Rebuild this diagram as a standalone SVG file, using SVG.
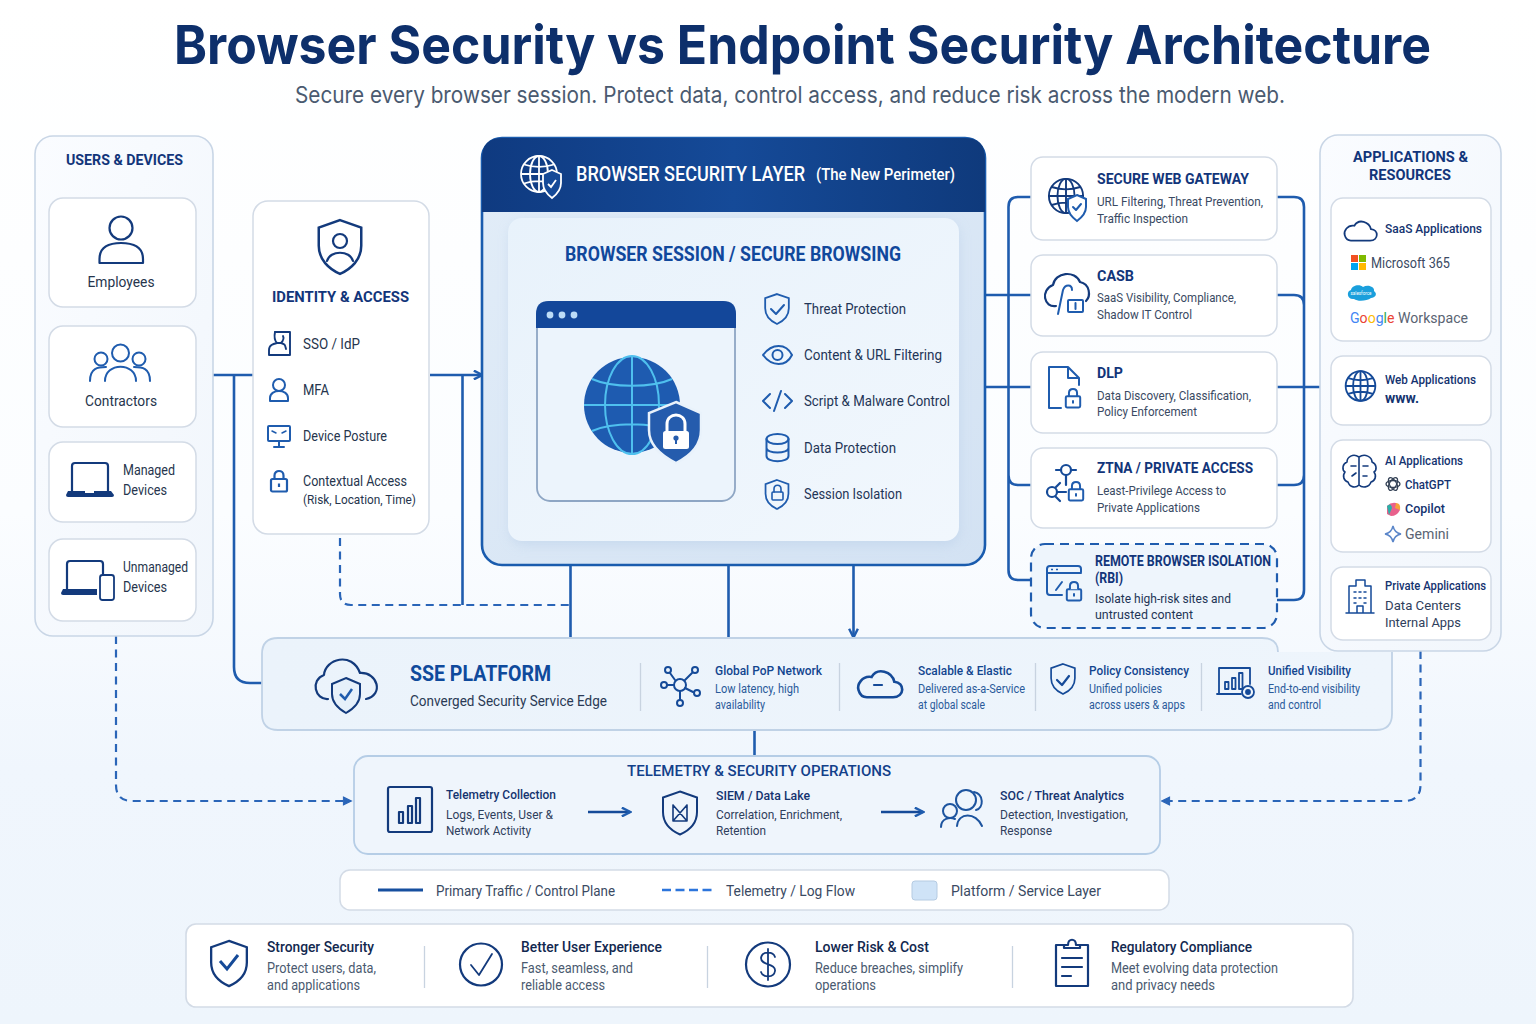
<svg xmlns="http://www.w3.org/2000/svg" width="1536" height="1024" viewBox="0 0 1536 1024">
<style>
text{font-family:"Roboto","Liberation Sans",sans-serif;fill:#26354d}
.title{font-family:"Inter","Liberation Sans",sans-serif;font-weight:700;font-size:54px;fill:#0d2f6b;text-anchor:middle}
.sub{font-family:"Inter","Liberation Sans",sans-serif;font-size:22.5px;fill:#4a5a70;text-anchor:middle}
.h{font-weight:700;font-size:15.5px;fill:#12357a}
.m{text-anchor:middle}
.b{font-size:14.5px}
.feat{font-size:14.5px;fill:#1f3557}
.ct{font-weight:700;font-size:15.5px;fill:#12357a}
.cd{font-size:13px;fill:#3a4a63}
.at{font-weight:500;font-size:13px;fill:#14336f}
.st{font-weight:500;font-size:13px;fill:#12458f}
.sd{font-size:12.5px;fill:#2a5a9a}
.tt{font-weight:500;font-size:13px;fill:#14336f}
.td{font-size:13px;fill:#2f405c}
.lg{font-size:15px;fill:#3a4a63}
.bt{font-weight:500;font-size:15px;fill:#12284f}
.bd{font-size:14px;fill:#4a5a70}
.panel{fill:url(#pg);stroke:#c9d6e6;stroke-width:1.6}
.card{fill:#fff;stroke:#d3dbe6;stroke-width:1.5}
.conn{fill:none;stroke:#1f5cae;stroke-width:2.6}
.dash{fill:none;stroke:#2a65b8;stroke-width:2.2;stroke-dasharray:8 5.5}
.i{fill:none;stroke:#1f5cae;stroke-width:2;stroke-linecap:round;stroke-linejoin:round}
.d{fill:none;stroke:#133a7c;stroke-width:2.2;stroke-linecap:round;stroke-linejoin:round}
.div{stroke:#c8d3e0;stroke-width:1.3}
</style>
<defs>
<linearGradient id="bg" x1="0" y1="0" x2="0" y2="1"><stop offset="0" stop-color="#fff"/><stop offset=".5" stop-color="#fbfdff"/><stop offset=".75" stop-color="#f0f6fd"/><stop offset="1" stop-color="#eef5fc"/></linearGradient>
<linearGradient id="pg" x1="0" y1="0" x2="1" y2="1"><stop offset="0" stop-color="#fafcff"/><stop offset="1" stop-color="#f1f6fc"/></linearGradient>
<linearGradient id="hd" x1="0" y1="0" x2="1" y2="0"><stop offset="0" stop-color="#0f3a80"/><stop offset=".5" stop-color="#154a98"/><stop offset="1" stop-color="#0f3a7c"/></linearGradient>
<linearGradient id="ly" x1="0" y1="0" x2="1" y2="1"><stop offset="0" stop-color="#e2edf8"/><stop offset="1" stop-color="#d3e2f3"/></linearGradient>
<linearGradient id="inn" x1="0" y1="0" x2="1" y2="1"><stop offset="0" stop-color="#e8f2fb"/><stop offset="1" stop-color="#f1f7fd"/></linearGradient>
<linearGradient id="sse" x1="0" y1="0" x2="1" y2="0"><stop offset="0" stop-color="#ebf3fb"/><stop offset="1" stop-color="#eef5fc"/></linearGradient>
<filter id="soft" x="-10%" y="-10%" width="120%" height="120%"><feGaussianBlur stdDeviation="6"/></filter>
<marker id="ah" viewBox="0 0 10 10" refX="8.5" refY="5" markerWidth="4.2" markerHeight="4.2" orient="auto-start-reverse"><path d="M1 1L9 5L1 9" fill="none" stroke="#1f5cae" stroke-width="2.2"/></marker>
<marker id="ad" viewBox="0 0 10 10" refX="8.5" refY="5" markerWidth="4.6" markerHeight="4.6" orient="auto"><path d="M1 1L9 5L1 9Z" fill="#2a65b8" stroke="#2a65b8" stroke-width="1"/></marker>
<symbol id="shield" viewBox="0 0 40 46" overflow="visible"><path d="M20 1.500L37 7.500V22C37 33 29 40.500 20 44.500C11 40.500 3 33 3 22V7.500Z"/></symbol>
<symbol id="globe" viewBox="0 0 40 40" overflow="visible"><circle cx="20" cy="20" r="18"/><ellipse cx="20" cy="20" rx="9" ry="18"/><path d="M20 2V38M2 20H38M5 10.500C14 13.500 26 13.500 35 10.500M5 29.500C14 26.500 26 26.500 35 29.500"/></symbol>
<symbol id="lock" viewBox="0 0 20 24" overflow="visible"><rect x="2" y="10" width="16" height="12.500" rx="1.500"/><path d="M5.500 10V6.500C5.500 0.500 14.500 0.500 14.500 6.500V10M10 14.500V18"/></symbol>
<symbol id="cloud" viewBox="0 0 40 26" overflow="visible"><path d="M9 24.500H31C41 24.500 41 12 32 11.500C30 3 18 -1 13 7.500C5 6 0.500 14 2 18.500C3 22 5.500 24.500 9 24.500Z"/></symbol>
</defs>
<rect width="1536" height="1024" fill="url(#bg)"/>
<text class="title" x="802.500" y="64" textLength="1257" lengthAdjust="spacingAndGlyphs">Browser Security vs Endpoint Security Architecture</text>
<text class="sub" x="790" y="103" textLength="990" lengthAdjust="spacingAndGlyphs">Secure every browser session. Protect data, control access, and reduce risk across the modern web.</text>

<g id="connectors">
<path class="conn" d="M213 375H253M234 375V667Q234 683 250 683H262"/>
<path class="conn" d="M430 375H482" marker-end="url(#ah)"/>
<path class="conn" d="M462.500 375V605"/>
<path class="dash" d="M340 538V594Q340 605 351 605H570"/>
<path class="conn" d="M570.500 565V638M728.500 565V638"/>
<path class="conn" d="M853.500 565V637" marker-end="url(#ah)"/>
<path class="conn" d="M1031 197H1018Q1008.500 197 1008.500 207V570Q1008.500 580 1018 580H1031M985 295H1031M985 387H1031M1008.500 475Q1008.500 485 1018 485H1031"/>
<path class="conn" d="M1277 197H1294Q1304 197 1304 207V590Q1304 600 1294 600H1277M1277 295H1294Q1304 295 1304 305M1277 387H1320M1277 485H1294Q1304 485 1304 475"/>
<path class="conn" d="M754.500 730V756"/>
<path class="dash" d="M116 636V785Q116 801 132 801H351" marker-end="url(#ad)"/>
<path class="dash" d="M1420.500 651V785Q1420.500 801 1404 801H1162" marker-end="url(#ad)"/>
</g>

<g id="users-devices">
<rect class="panel" x="35" y="136" width="178" height="500" rx="18"/>
<text class="h m" x="124.500" y="165" textLength="117" lengthAdjust="spacingAndGlyphs">USERS &amp; DEVICES</text>
<g id="employees"><rect class="card" x="49" y="198" width="147" height="109" rx="14"/>
<g class="d"><circle cx="121" cy="228" r="11.500"/><path d="M99.500 263V259C99.500 247 109 243 121 243S143 247 143 259V263Z"/></g>
<text class="b m" x="121" y="287" textLength="67" lengthAdjust="spacingAndGlyphs">Employees</text></g>
<g id="contractors"><rect class="card" x="49" y="326" width="147" height="101" rx="14"/>
<g class="i"><circle cx="120.500" cy="353" r="8.500"/><circle cx="101" cy="359" r="6.500"/><circle cx="139" cy="359" r="6.500"/><path d="M90 381C90 368 98 367 106 367M150 381C150 368 142 367 134 367M105 381C105 362 136 362 136 381"/></g>
<text class="b m" x="121" y="406" textLength="72" lengthAdjust="spacingAndGlyphs">Contractors</text></g>
<g id="managed"><rect class="card" x="49" y="442" width="147" height="80" rx="14"/>
<path class="d" d="M72 491V466Q72 463 75 463H105Q108 463 108 466V491"/><path d="M68 491H111L114 495Q114 497 112 497H68Q66 497 66 495Z" fill="#133a7c"/><rect x="85" y="491" width="9" height="2" fill="#fff"/>
<text class="b" x="123" y="475" textLength="52" lengthAdjust="spacingAndGlyphs">Managed</text><text class="b" x="123" y="495" textLength="44" lengthAdjust="spacingAndGlyphs">Devices</text></g>
<g id="unmanaged"><rect class="card" x="49" y="539" width="147" height="82" rx="14"/>
<path class="d" d="M67 589V564Q67 561 70 561H100Q103 561 103 564V575"/><path d="M63 589H97V595H63Q61 595 61 593Z" fill="#133a7c"/><rect class="d" x="100" y="575" width="14" height="25" rx="2.500" style="stroke-width:1.800"/>
<text class="b" x="123" y="572" textLength="65" lengthAdjust="spacingAndGlyphs">Unmanaged</text><text class="b" x="123" y="592" textLength="44" lengthAdjust="spacingAndGlyphs">Devices</text></g>
</g>

<g id="identity-access">
<rect class="card" x="253" y="201" width="176" height="333" rx="15"/>
<use href="#shield" x="315" y="218" width="50" height="58" fill="none" stroke="#133a7c" stroke-width="2"/>
<g class="d"><circle cx="340" cy="241" r="7"/><path d="M327 261C330 250 350 250 353 261"/></g>
<text class="h m" x="340.500" y="302" textLength="137" lengthAdjust="spacingAndGlyphs">IDENTITY &amp; ACCESS</text>
<g class="d" style="stroke-width:1.900"><path d="M275 332H290V355H269V350C269 345 273 344 277 343M281 343C285 344 285 345 286 349"/><circle cx="279" cy="338" r="4" style="display:none"/><path d="M275 332C274 337 275 341 277 343H281C283 341 284 338 283 336"/></g>
<text class="b" x="303" y="349" textLength="57" lengthAdjust="spacingAndGlyphs">SSO / IdP</text>
<g class="i"><circle cx="279" cy="385" r="6"/><path d="M270 401V398C270 393 275 391 279 391S288 393 288 398V401Z"/></g>
<text class="b" x="303" y="395" textLength="26" lengthAdjust="spacingAndGlyphs">MFA</text>
<g class="i"><rect x="268" y="426" width="22" height="15" rx="1"/><path d="M279 441V447M274 447H284"/><path d="M272 431L276 433M286 431L282 433" stroke-width="1.500"/></g>
<text class="b" x="303" y="441" textLength="84" lengthAdjust="spacingAndGlyphs">Device Posture</text>
<use href="#lock" x="269" y="469" width="20" height="24" fill="none" stroke="#1f5cae" stroke-width="2.200"/>
<text class="b" x="303" y="486" textLength="104" lengthAdjust="spacingAndGlyphs">Contextual Access</text>
<text x="303" y="504" font-size="13.500" textLength="113" lengthAdjust="spacingAndGlyphs">(Risk, Location, Time)</text>
</g>

<g id="browser-security-layer">
<rect x="482" y="138" width="503" height="427" rx="20" fill="url(#ly)" stroke="#1a5cae" stroke-width="2.600"/>
<path d="M482 212V158Q482 138 502 138H965Q985 138 985 158V212Z" fill="url(#hd)"/>
<g fill="none" stroke="#fff" stroke-width="1.800"><use href="#globe" x="519" y="154" width="40" height="40"/></g>
<path d="M552 170L561 174V183C561 190 556 195 552 198C548 195 543 190 543 183V174Z" fill="#154a98" stroke="#fff" stroke-width="1.800"/>
<path d="M548 184L551 187L556 180" fill="none" stroke="#fff" stroke-width="1.800"/>
<text x="576" y="181" font-weight="500" font-size="20px" style="fill:#fff" textLength="229" lengthAdjust="spacingAndGlyphs">BROWSER SECURITY LAYER</text>
<text x="816" y="180" font-weight="500" font-size="16.500px" style="fill:#fff" textLength="139" lengthAdjust="spacingAndGlyphs">(The New Perimeter)</text>
<rect x="510" y="222" width="449" height="323" rx="14" fill="#b9cfe8" opacity=".55" filter="url(#soft)"/>
<rect x="508" y="218" width="451" height="323" rx="14" fill="url(#inn)"/>
<text class="m" x="733" y="261" font-weight="700" font-size="20px" style="fill:#11489c" textLength="336" lengthAdjust="spacingAndGlyphs">BROWSER SESSION / SECURE BROWSING</text>
<rect x="537" y="302" width="198" height="199" rx="13" fill="#ecf4fc" stroke="#8ea6c4" stroke-width="1.800"/>
<path d="M536 328V314Q536 301 549 301H723Q736 301 736 314V328Z" fill="#13479a"/>
<circle cx="550" cy="315" r="3.400" fill="#bcdcf7"/><circle cx="562" cy="315" r="3.400" fill="#bcdcf7"/><circle cx="574" cy="315" r="3.400" fill="#bcdcf7"/>
<circle cx="632" cy="405" r="48" fill="#1e5bb0"/>
<g fill="none" stroke="#4fc0ee" stroke-width="2"><ellipse cx="632" cy="405" rx="27" ry="49"/><path d="M632 356V454M584 405H680M592 379C612 388 652 388 672 379M592 431C612 422 652 422 672 431"/></g>
<path d="M676 402L701 413V430C701 447 688 457 676 463C664 457 649 447 649 430V413Z" fill="#255cad" stroke="#e9f2fb" stroke-width="2.500"/>
<path d="M667 432V424C667 412 685 412 685 424V432" fill="none" stroke="#fff" stroke-width="3"/>
<rect x="663" y="431" width="26" height="18" rx="2.500" fill="#fff"/><circle cx="676" cy="438" r="2.600" fill="#255cad"/><path d="M676 438V444" stroke="#255cad" stroke-width="2"/>
<use href="#shield" x="763" y="293" width="28" height="32" fill="none" stroke="#1f5cae" stroke-width="2.600"/>
<path class="i" d="M771 309L776 314L784 305"/>
<text class="feat" x="804" y="314" textLength="102" lengthAdjust="spacingAndGlyphs">Threat Protection</text>
<g class="i"><path d="M763 355C772 343 786 343 792 355C786 367 772 367 763 355Z"/><circle cx="777.500" cy="355" r="5"/></g>
<text class="feat" x="804" y="360" textLength="138" lengthAdjust="spacingAndGlyphs">Content &amp; URL Filtering</text>
<g class="i"><path d="M770 394L763 401L770 408M785 394L792 401L785 408M781 391L774 411"/></g>
<text class="feat" x="804" y="406" textLength="146" lengthAdjust="spacingAndGlyphs">Script &amp; Malware Control</text>
<g class="i"><ellipse cx="777.500" cy="439" rx="11" ry="5"/><path d="M766.500 439V456C766.500 463 788.500 463 788.500 456V439M766.500 448C766.500 454 788.500 454 788.500 448"/></g>
<text class="feat" x="804" y="453" textLength="92" lengthAdjust="spacingAndGlyphs">Data Protection</text>
<use href="#shield" x="763" y="479" width="28" height="31" fill="none" stroke="#1f5cae" stroke-width="2.600"/>
<g class="i" style="stroke-width:1.600"><rect x="772" y="492" width="11" height="8" rx="1"/><path d="M774 492V489C774 484 781 484 781 489V492"/></g>
<text class="feat" x="804" y="499" textLength="98" lengthAdjust="spacingAndGlyphs">Session Isolation</text>
</g>

<g id="secure-web-gateway"><rect class="card" x="1031" y="157" width="246" height="83" rx="12"/>
<use href="#globe" x="1047" y="176" width="38" height="40" fill="none" stroke="#133a7c" stroke-width="2"/>
<path d="M1077 195L1086 199V207C1086 214 1081 218 1077 221C1073 218 1068 214 1068 207V199Z" fill="#fff" stroke="#1f5cae" stroke-width="2"/><path class="i" d="M1073 207L1076 210L1081 204"/>
<text class="ct" x="1097" y="184" textLength="152" lengthAdjust="spacingAndGlyphs">SECURE WEB GATEWAY</text><text class="cd" x="1097" y="206" textLength="166" lengthAdjust="spacingAndGlyphs">URL Filtering, Threat Prevention,</text><text class="cd" x="1097" y="223" textLength="91" lengthAdjust="spacingAndGlyphs">Traffic Inspection</text></g>
<g id="casb"><rect class="card" x="1031" y="255" width="246" height="81" rx="12"/>
<path class="d" d="M1056 306C1044 308 1040 290 1053 285C1055 272 1075 270 1080 282C1090 284 1091 296 1086 301"/>
<path class="i" d="M1058 314L1063 290C1065 284 1072 284 1072 290"/>
<rect class="i" x="1068" y="300" width="15" height="12" rx="1"/><path class="i" d="M1075.500 303V309"/>
<text class="ct" x="1097" y="281" textLength="37" lengthAdjust="spacingAndGlyphs">CASB</text><text class="cd" x="1097" y="302" textLength="139" lengthAdjust="spacingAndGlyphs">SaaS Visibility, Compliance,</text><text class="cd" x="1097" y="319" textLength="95" lengthAdjust="spacingAndGlyphs">Shadow IT Control</text></g>
<g id="dlp"><rect class="card" x="1031" y="352" width="246" height="81" rx="12"/>
<path class="i" d="M1061 408H1049V367H1068L1079 378V385M1068 367V378H1079"/>
<use href="#lock" x="1064" y="386" width="18" height="24" fill="none" stroke="#1f5cae" stroke-width="2.200"/>
<text class="ct" x="1097" y="378" textLength="26" lengthAdjust="spacingAndGlyphs">DLP</text><text class="cd" x="1097" y="400" textLength="154" lengthAdjust="spacingAndGlyphs">Data Discovery, Classification,</text><text class="cd" x="1097" y="416" textLength="100" lengthAdjust="spacingAndGlyphs">Policy Enforcement</text></g>
<g id="ztna"><rect class="card" x="1031" y="448" width="246" height="80" rx="12"/>
<g class="d" style="stroke:#154a98"><circle cx="1066" cy="470" r="5"/><path d="M1056 470H1061M1071 470H1076M1066 475V485"/><circle cx="1052" cy="492" r="5"/><path d="M1057 492H1066M1056 487L1060 483M1056 497L1060 501"/></g>
<use href="#lock" x="1067" y="479" width="18" height="24" fill="none" stroke="#1f5cae" stroke-width="2.200"/>
<text class="ct" x="1097" y="473" textLength="156" lengthAdjust="spacingAndGlyphs">ZTNA / PRIVATE ACCESS</text><text class="cd" x="1097" y="495" textLength="129" lengthAdjust="spacingAndGlyphs">Least-Privilege Access to</text><text class="cd" x="1097" y="512" textLength="103" lengthAdjust="spacingAndGlyphs">Private Applications</text></g>
<g id="rbi"><rect x="1031" y="544" width="246" height="84" rx="14" fill="#eef5fc" stroke="#1f5cae" stroke-width="2.200" stroke-dasharray="9 6"/>
<path class="i" d="M1062 595H1050Q1047 595 1047 592V569Q1047 566 1050 566H1078Q1081 566 1081 569V572M1047 573H1081M1056 590L1062 582"/>
<path d="M1051 569.500H1053M1056 569.500H1058" stroke="#1f5cae" stroke-width="1.500"/>
<use href="#lock" x="1065" y="579" width="18" height="24" fill="#eef5fc" stroke="#1f5cae" stroke-width="2.200"/>
<text class="ct" x="1095" y="566" style="font-size:14.500px" textLength="176" lengthAdjust="spacingAndGlyphs">REMOTE BROWSER ISOLATION</text><text class="ct" x="1095" y="583" style="font-size:14px" textLength="28" lengthAdjust="spacingAndGlyphs">(RBI)</text><text class="cd" x="1095" y="603" style="fill:#1f3557" textLength="136" lengthAdjust="spacingAndGlyphs">Isolate high-risk sites and</text><text class="cd" x="1095" y="619" style="fill:#1f3557" textLength="98" lengthAdjust="spacingAndGlyphs">untrusted content</text></g>

<g id="applications-resources">
<rect class="panel" x="1320" y="135" width="181" height="516" rx="18"/>
<text class="h m" x="1410.500" y="162" textLength="115" lengthAdjust="spacingAndGlyphs">APPLICATIONS &amp;</text><text class="h m" x="1410" y="180" textLength="82" lengthAdjust="spacingAndGlyphs">RESOURCES</text>
<g id="saas"><rect class="card" x="1331" y="198" width="160" height="143" rx="12"/>
<use href="#cloud" x="1343" y="219" width="35" height="23" fill="none" stroke="#133a7c" stroke-width="2"/>
<text class="at" x="1385" y="233" textLength="97" lengthAdjust="spacingAndGlyphs">SaaS Applications</text>
<rect x="1351" y="255" width="7" height="7" fill="#f25022"/><rect x="1359" y="255" width="7" height="7" fill="#7fba00"/><rect x="1351" y="263" width="7" height="7" fill="#00a4ef"/><rect x="1359" y="263" width="7" height="7" fill="#ffb900"/>
<text x="1371" y="268" font-size="14.500" style="fill:#3a4a63" textLength="79" lengthAdjust="spacingAndGlyphs">Microsoft 365</text>
<path d="M1354 299C1347 300 1346 291 1351 290C1352 285 1360 284 1363 287C1368 284 1375 287 1374 291C1378 294 1375 298 1371 298C1367 301 1358 302 1354 299Z" fill="#1a9fdc"/>
<text x="1361" y="294.500" font-size="4.500" text-anchor="middle" style="fill:#fff">salesforce</text>
<text x="1350" y="323" font-size="15" textLength="118" lengthAdjust="spacingAndGlyphs"><tspan style="fill:#4285f4">G</tspan><tspan style="fill:#ea4335">o</tspan><tspan style="fill:#fbbc05">o</tspan><tspan style="fill:#4285f4">g</tspan><tspan style="fill:#34a853">l</tspan><tspan style="fill:#ea4335">e</tspan><tspan style="fill:#5a6473"> Workspace</tspan></text></g>
<g id="web-apps"><rect class="card" x="1331" y="356" width="160" height="69" rx="12"/>
<use href="#globe" x="1344" y="369" width="33" height="34" fill="none" stroke="#154a98" stroke-width="2.200"/>
<text class="at" x="1385" y="384" textLength="91" lengthAdjust="spacingAndGlyphs">Web Applications</text><text x="1385" y="403" font-weight="700" font-size="14" style="fill:#14336f" textLength="34" lengthAdjust="spacingAndGlyphs">www.</text></g>
<g id="ai-apps"><rect class="card" x="1331" y="440" width="160" height="112" rx="12"/>
<path class="d" style="stroke-width:1.600" d="M1359 457C1353 453 1347 457 1347 462C1342 464 1342 470 1345 472C1342 476 1344 481 1348 482C1350 488 1356 488 1359 485C1362 488 1369 488 1371 482C1375 481 1377 476 1374 472C1377 470 1377 464 1372 462C1372 457 1365 453 1359 457ZM1359 457V485M1351 466H1356M1352 476L1356 473M1363 466H1368M1363 476H1367"/>
<text class="at" x="1385" y="465" style="font-size:12.500px" textLength="78" lengthAdjust="spacingAndGlyphs">AI Applications</text>
<g fill="none" stroke="#334155" stroke-width="1.300"><ellipse cx="1393" cy="484" rx="7" ry="3.500"/><ellipse cx="1393" cy="484" rx="7" ry="3.500" transform="rotate(60 1393 484)"/><ellipse cx="1393" cy="484" rx="7" ry="3.500" transform="rotate(120 1393 484)"/></g>
<text class="at" x="1405" y="489" style="font-size:13px" textLength="46" lengthAdjust="spacingAndGlyphs">ChatGPT</text>
<path d="M1387 506Q1391 502 1396 503L1400 510Q1397 516 1391 516L1387 514Z" fill="#e8618c"/><path d="M1387 506Q1391 502 1392 508L1389 515Z" fill="#2bb0a8"/><path d="M1396 503Q1401 503 1400 510L1395 508Z" fill="#f7a23b"/>
<text class="at" x="1405" y="513" style="font-size:13px" textLength="40" lengthAdjust="spacingAndGlyphs">Copilot</text>
<path d="M1393 526C1394 531 1396 533 1401 534C1396 535 1394 537 1393 542C1392 537 1390 535 1385 534C1390 533 1392 531 1393 526Z" fill="none" stroke="#5b86c9" stroke-width="1.500"/>
<text x="1405" y="539" font-size="14.500" style="fill:#5a6473" textLength="44" lengthAdjust="spacingAndGlyphs">Gemini</text></g>
<g id="private-apps"><rect class="card" x="1331" y="567" width="160" height="73" rx="12"/>
<g class="d" style="stroke-width:1.500;stroke:#154a98"><path d="M1346 613H1374M1349 613V586H1356V580H1365V586H1371V613M1357 613V606H1363V613"/><path d="M1354 592H1356M1359 592H1361M1364 592H1366M1354 598H1356M1359 598H1361M1364 598H1366M1354 603H1356M1364 603H1366"/></g>
<text class="at" x="1385" y="590" style="font-size:12.500px" textLength="101" lengthAdjust="spacingAndGlyphs">Private Applications</text><text class="td" x="1385" y="610" style="font-size:13.500px" textLength="76" lengthAdjust="spacingAndGlyphs">Data Centers</text><text class="td" x="1385" y="627" style="font-size:13.500px" textLength="76" lengthAdjust="spacingAndGlyphs">Internal Apps</text></g>
</g>

<g id="sse-platform">
<path d="M278 638H1262Q1278 638 1278 652H1392V714Q1392 730 1376 730H278Q262 730 262 714V654Q262 638 278 638Z" fill="url(#sse)"/>
<path d="M1278 652Q1278 638 1262 638H278Q262 638 262 654V714Q262 730 278 730H1376Q1392 730 1392 714V652" fill="none" stroke="#c0d2e6" stroke-width="1.800"/>
<path class="d" d="M328 699C315 700 310 680 324 675C325 659 352 651 360 673C378 672 384 695 366 699"/>
<path d="M346 678L360 684V694C360 703 353 709 346 713C339 709 332 703 332 694V684Z" fill="#e6f0fa" stroke="#133a7c" stroke-width="2"/>
<path d="M340 694L345 699L352 689" fill="none" stroke="#1f5cae" stroke-width="2.500"/>
<text x="410" y="681" font-weight="700" font-size="22px" style="fill:#0f4a9c" textLength="141" lengthAdjust="spacingAndGlyphs">SSE PLATFORM</text>
<text x="410" y="706" font-size="14.500" style="fill:#2a3a55" textLength="197" lengthAdjust="spacingAndGlyphs">Converged Security Service Edge</text>
<path class="div" d="M640.500 663V711M839.500 663V711M1035.500 663V711M1201.500 663V711"/>
<g class="i" style="stroke:#154a98"><circle cx="680" cy="685" r="6"/><path d="M675 680L670 673M685 680L692 673M674 685H667M685 688L693 692M680 691V699"/><circle cx="668" cy="670" r="3"/><circle cx="695" cy="670" r="3"/><circle cx="664" cy="685" r="3"/><circle cx="697" cy="693" r="3"/><circle cx="680" cy="703" r="3"/></g>
<text class="st" x="715" y="675" textLength="107" lengthAdjust="spacingAndGlyphs">Global PoP Network</text><text class="sd" x="715" y="693" textLength="84" lengthAdjust="spacingAndGlyphs">Low latency, high</text><text class="sd" x="715" y="709" textLength="50" lengthAdjust="spacingAndGlyphs">availability</text>
<use href="#cloud" x="856" y="668" width="48" height="31" fill="none" stroke="#154a98" stroke-width="2.200"/><path class="d" d="M874 685H882" style="stroke:#154a98"/>
<text class="st" x="918" y="675" textLength="94" lengthAdjust="spacingAndGlyphs">Scalable &amp; Elastic</text><text class="sd" x="918" y="693" textLength="107" lengthAdjust="spacingAndGlyphs">Delivered as-a-Service</text><text class="sd" x="918" y="709" textLength="67" lengthAdjust="spacingAndGlyphs">at global scale</text>
<use href="#shield" x="1049" y="662" width="28" height="34" fill="none" stroke="#154a98" stroke-width="2.400"/><path class="d" d="M1057 680L1062 685L1069 676" style="stroke:#154a98"/>
<text class="st" x="1089" y="675" textLength="100" lengthAdjust="spacingAndGlyphs">Policy Consistency</text><text class="sd" x="1089" y="693" textLength="73" lengthAdjust="spacingAndGlyphs">Unified policies</text><text class="sd" x="1089" y="709" textLength="96" lengthAdjust="spacingAndGlyphs">across users &amp; apps</text>
<g class="d" style="stroke:#154a98;stroke-width:1.800"><path d="M1219 694V668H1250V684M1217 694H1241"/><rect x="1225" y="682" width="3.500" height="7"/><rect x="1232" y="678" width="3.500" height="11"/><rect x="1239" y="673" width="3.500" height="16"/><circle cx="1248" cy="692" r="6"/><circle cx="1248" cy="692" r="2" fill="#154a98"/></g>
<text class="st" x="1268" y="675" textLength="83" lengthAdjust="spacingAndGlyphs">Unified Visibility</text><text class="sd" x="1268" y="693" textLength="92" lengthAdjust="spacingAndGlyphs">End-to-end visibility</text><text class="sd" x="1268" y="709" textLength="53" lengthAdjust="spacingAndGlyphs">and control</text>
</g>

<g id="telemetry">
<rect x="354" y="756" width="806" height="98" rx="14" fill="#eff5fc" stroke="#b5cde6" stroke-width="1.800"/>
<text class="m" x="759" y="776" font-weight="500" font-size="15.500" style="fill:#12408a" textLength="264" lengthAdjust="spacingAndGlyphs">TELEMETRY &amp; SECURITY OPERATIONS</text>
<g id="telemetry-collection"><g class="d"><rect x="388" y="787" width="44" height="45" rx="2"/><rect x="399" y="812" width="4" height="11"/><rect x="408" y="806" width="4" height="17"/><rect x="416" y="798" width="4" height="25"/></g>
<text class="tt" x="446" y="799" textLength="110" lengthAdjust="spacingAndGlyphs">Telemetry Collection</text><text class="td" x="446" y="819" textLength="107" lengthAdjust="spacingAndGlyphs">Logs, Events, User &amp;</text><text class="td" x="446" y="835" textLength="85" lengthAdjust="spacingAndGlyphs">Network Activity</text></g>
<g id="siem"><use href="#shield" x="660" y="789" width="40" height="48" fill="none" stroke="#133a7c" stroke-width="2"/><path class="d" style="stroke-width:1.600" d="M673 805L687 821M687 805L673 821M673 805V821H687V805"/>
<text class="tt" x="716" y="800" textLength="94" lengthAdjust="spacingAndGlyphs">SIEM / Data Lake</text><text class="td" x="716" y="819" textLength="126" lengthAdjust="spacingAndGlyphs">Correlation, Enrichment,</text><text class="td" x="716" y="835" textLength="50" lengthAdjust="spacingAndGlyphs">Retention</text></g>
<g id="soc"><g class="i" style="stroke:#1d549f"><circle cx="966" cy="800" r="10"/><circle cx="950" cy="811" r="7"/><path d="M941 827C941 818 950 817 955 819M974 792C984 794 984 808 976 810M957 826C958 812 976 812 982 826"/></g>
<text class="tt" x="1000" y="800" textLength="124" lengthAdjust="spacingAndGlyphs">SOC / Threat Analytics</text><text class="td" x="1000" y="819" textLength="128" lengthAdjust="spacingAndGlyphs">Detection, Investigation,</text><text class="td" x="1000" y="835" textLength="52" lengthAdjust="spacingAndGlyphs">Response</text></g>
<path class="conn" d="M588 812H630" marker-end="url(#ah)" style="stroke:#154a98"/>
<path class="conn" d="M881 812H923" marker-end="url(#ah)" style="stroke:#154a98"/>
</g>

<g id="legend">
<rect x="340" y="870" width="829" height="40" rx="10" fill="#fff" stroke="#d3dbe6" stroke-width="1.500"/>
<path d="M378 890H423" stroke="#164f9f" stroke-width="2.800"/><text class="lg" x="436" y="896" textLength="179" lengthAdjust="spacingAndGlyphs">Primary Traffic / Control Plane</text>
<path d="M662 890H712" stroke="#2c75dc" stroke-width="2.400" stroke-dasharray="9 4.500"/><text class="lg" x="726" y="896" textLength="129" lengthAdjust="spacingAndGlyphs">Telemetry / Log Flow</text>
<rect x="912" y="881" width="25" height="19" rx="3" fill="#cfe3f7" stroke="#b5cbe2"/><text class="lg" x="951" y="896" textLength="150" lengthAdjust="spacingAndGlyphs">Platform / Service Layer</text>
</g>

<g id="benefits">
<rect x="186" y="924" width="1167" height="83" rx="10" fill="#fff" stroke="#d3dbe6" stroke-width="1.600"/>
<path class="div" d="M424.500 946V988M707.500 946V988M1012.500 946V988"/>
<g id="stronger-security"><use href="#shield" x="208" y="937" width="42" height="53" fill="none" stroke="#133a7c" stroke-width="2.200"/><path d="M220 961L227 969L238 955" fill="none" stroke="#154a98" stroke-width="3"/>
<text class="bt" x="267" y="952" textLength="107" lengthAdjust="spacingAndGlyphs">Stronger Security</text><text class="bd" x="267" y="973" textLength="109" lengthAdjust="spacingAndGlyphs">Protect users, data,</text><text class="bd" x="267" y="990" textLength="93" lengthAdjust="spacingAndGlyphs">and applications</text></g>
<g id="better-ux"><circle class="d" cx="481" cy="964.500" r="21"/><path class="d" d="M471 965L479 975L492 954" style="stroke-width:1.800"/>
<text class="bt" x="521" y="952" textLength="141" lengthAdjust="spacingAndGlyphs">Better User Experience</text><text class="bd" x="521" y="973" textLength="112" lengthAdjust="spacingAndGlyphs">Fast, seamless, and</text><text class="bd" x="521" y="990" textLength="84" lengthAdjust="spacingAndGlyphs">reliable access</text></g>
<g id="lower-risk"><circle class="d" cx="768" cy="964.500" r="22"/><path class="d" d="M775 957C773 951 762 951 761 958C761 966 776 963 775 971C774 978 763 978 761 972M768 949V980" style="stroke-width:1.800"/>
<text class="bt" x="815" y="952" textLength="114" lengthAdjust="spacingAndGlyphs">Lower Risk &amp; Cost</text><text class="bd" x="815" y="973" textLength="148" lengthAdjust="spacingAndGlyphs">Reduce breaches, simplify</text><text class="bd" x="815" y="990" textLength="61" lengthAdjust="spacingAndGlyphs">operations</text></g>
<g id="regulatory"><path class="d" d="M1064 945H1056V986H1088V945H1080M1064 945V948H1080V945L1076 945C1076 938 1068 938 1068 945ZM1062 958H1082M1062 967H1082M1062 976H1071"/>
<text class="bt" x="1111" y="952" textLength="141" lengthAdjust="spacingAndGlyphs">Regulatory Compliance</text><text class="bd" x="1111" y="973" textLength="167" lengthAdjust="spacingAndGlyphs">Meet evolving data protection</text><text class="bd" x="1111" y="990" textLength="104" lengthAdjust="spacingAndGlyphs">and privacy needs</text></g>
</g>
</svg>
